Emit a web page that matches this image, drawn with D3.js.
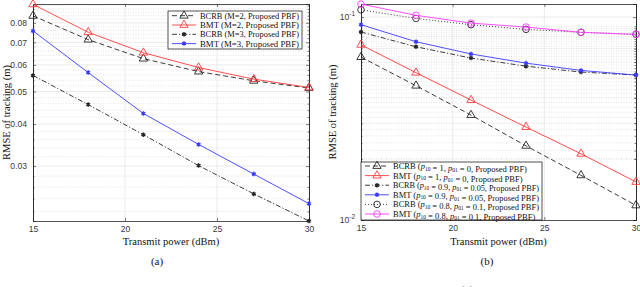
<!DOCTYPE html>
<html>
<head>
<meta charset="utf-8">
<script src="https://cdn.jsdelivr.net/npm/d3@7"></script>
<style>
  body { margin: 0; background: #fff; }
  svg { display: block; }
</style>
</head>
<body>
<div id="canvas"></div>
<script>
// data

const xPower = [15, 18, 21, 24, 27, 30];
const xTicks = [15, 20, 25, 30];

// panel (a)
const bcrbM2 = [0.0839, 0.0713, 0.0626, 0.0573, 0.0538, 0.0512];
const bmtM2 = [0.0908, 0.0750, 0.0652, 0.0589, 0.0544, 0.0514];
const bcrbM3 = [0.0558, 0.0457, 0.0372, 0.0301, 0.0248, 0.0206];
const bmtM3 = [0.0757, 0.0569, 0.0430, 0.0348, 0.0284, 0.0232];
const yTicksA = [0.03, 0.04, 0.05, 0.06, 0.07, 0.08];

// panel (b)
const bcrbP1 = [0.0635, 0.0459, 0.0329, 0.0232, 0.0166, 0.0118];
const bmtP1 = [0.0730, 0.0532, 0.0390, 0.0287, 0.0212, 0.0154];
const bcrbP09 = [0.0844, 0.0714, 0.0628, 0.0573, 0.0536, 0.0518];
const bmtP09 = [0.0917, 0.0756, 0.0658, 0.0593, 0.0546, 0.0518];
const bcrbP08 = [0.1086, 0.0985, 0.0917, 0.0870, 0.0841, 0.0822];
const bmtP08 = [0.1159, 0.1020, 0.0934, 0.0893, 0.0841, 0.0822];
const yTicksB = [0.01, 0.1];

// constants
const width = 640;
const height = 287;
const serif = "'Liberation Serif', 'DejaVu Serif', serif";
const sans = "'Liberation Sans', Arial, sans-serif";
const axisColor = '#262626';
const red = '#ff3b3b';
const blue = '#3b3bff';
const magenta = '#ff3bff';
const black = '#262626';

const dashes = { solid: null, dash: '5,3', dashdot: '5,2,1.2,2', dot: '1,2' };

const svg = d3.select('#canvas')
    .append('svg').attr('width', width).attr('height', height);

function drawMarker(g, type, color, x, y) {
    if (type === 'tri') {
        g.append('path')
            .attr('d', d3.symbol(d3.symbolTriangle, 30)())
            .attr('transform', `translate(${x},${y})`)
            .attr('fill', 'none').attr('stroke', color).attr('stroke-width', 0.9);
    } else if (type === 'circle') {
        g.append('circle').attr('cx', x).attr('cy', y).attr('r', 3.3)
            .attr('fill', 'none').attr('stroke', color).attr('stroke-width', 0.9);
    } else {
        g.append('path')
            .attr('d', d3.symbol(d3.symbolAsterisk, 14)())
            .attr('transform', `translate(${x},${y})`)
            .attr('fill', 'none').attr('stroke', color).attr('stroke-width', 1.4);
    }
}

function drawPanel(p) {
    const x = d3.scaleLinear().domain([15, 30]).range([p.left, p.right]);
    const y = d3.scaleLog().domain(p.yDomain).range([p.bottom, p.top]);
    const g = svg.append('g');

    // grid
    const minor = [];
    for (let v = 0.01; v < 0.1; v += 0.01) minor.push(+v.toFixed(3));
    for (let v = 0.02; v < 0.09; v += 0.002) minor.push(+v.toFixed(4));
    const minorVals = minor.filter(v => v > p.yDomain[0] && v < p.yDomain[1] && !p.yTicks.includes(v));
    g.selectAll('.minor').data(minorVals).join('line')
        .attr('x1', p.left).attr('x2', p.right)
        .attr('y1', d => y(d)).attr('y2', d => y(d))
        .attr('stroke', '#d4d4d4').attr('stroke-width', 0.6).attr('stroke-dasharray', '1,1.5');
    g.selectAll('.majory').data(p.yTicks.filter(v => v > p.yDomain[0] && v < p.yDomain[1])).join('line')
        .attr('x1', p.left).attr('x2', p.right)
        .attr('y1', d => y(d)).attr('y2', d => y(d))
        .attr('stroke', '#e3e3e3').attr('stroke-width', 0.7);
    g.selectAll('.majorx').data(xTicks.slice(1, -1)).join('line')
        .attr('x1', d => x(d)).attr('x2', d => x(d))
        .attr('y1', p.top).attr('y2', p.bottom)
        .attr('stroke', '#e3e3e3').attr('stroke-width', 0.7);

    // axes
    const xAxis = d3.axisBottom(x).tickValues(xTicks).tickSize(-3).tickPadding(5);
    const xg = g.append('g').attr('transform', `translate(0,${p.bottom})`).call(xAxis);
    g.append('g').attr('transform', `translate(0,${p.top})`)
        .call(d3.axisTop(x).tickValues(xTicks).tickSize(-3).tickFormat(''));
    const yAxis = d3.axisLeft(y).tickValues(p.yTicks).tickSize(-3).tickPadding(6)
        .tickFormat(p.tickFormat);
    const yg = g.append('g').attr('transform', `translate(${p.left},0)`).call(yAxis);
    g.append('g').attr('transform', `translate(${p.right},0)`)
        .call(d3.axisRight(y).tickValues(p.yTicks).tickSize(-3).tickFormat(''));
    g.append('g').attr('transform', `translate(${p.left},0)`)
        .call(d3.axisLeft(y).tickValues(minorVals).tickSize(-1.5).tickFormat(''));
    g.append('g').attr('transform', `translate(${p.right},0)`)
        .call(d3.axisRight(y).tickValues(minorVals).tickSize(-1.5).tickFormat(''));
    g.selectAll('.domain').attr('stroke', axisColor).attr('stroke-width', 0.8);
    g.selectAll('.tick line').attr('stroke', axisColor).attr('stroke-width', 0.6);
    xg.selectAll('text').attr('font-family', sans).attr('font-size', 8.6).attr('fill', '#3a3a3a');
    yg.selectAll('text').attr('font-family', sans).attr('font-size', 8.6).attr('fill', '#3a3a3a');

    if (p.powerLabels) {
        yg.selectAll('.tick text').each(function (d) {
            const t = d3.select(this).text('');
            t.append('tspan').text('10');
            t.append('tspan').attr('dy', -4).attr('font-size', 6.5).text(Math.round(Math.log10(d)));
        });
    }

    // series
    const line = d3.line().x((d, i) => x(xPower[i])).y(d => y(d));
    p.series.forEach(s => {
        g.append('path').datum(s.values)
            .attr('d', line)
            .attr('fill', 'none').attr('stroke', s.color).attr('stroke-width', 0.9)
            .attr('stroke-dasharray', dashes[s.dash]);
        s.values.forEach((v, i) => drawMarker(g, s.marker, s.color, x(xPower[i]), y(v)));
    });

    // legend
    const lg = g.append('g');
    lg.append('rect').attr('x', p.legend.x).attr('y', p.legend.y)
        .attr('width', p.legend.w).attr('height', p.legend.h)
        .attr('fill', '#fff').attr('stroke', axisColor).attr('stroke-width', 0.8);
    p.series.forEach((s, i) => {
        const ry = p.legend.y + p.legend.first + i * p.legend.step;
        const lx = p.legend.x + 4;
        lg.append('line').attr('x1', lx).attr('x2', lx + 24).attr('y1', ry).attr('y2', ry)
            .attr('stroke', s.color).attr('stroke-width', 0.9).attr('stroke-dasharray', dashes[s.dash]);
        drawMarker(lg, s.marker, s.color, lx + 12, ry);
        const t = lg.append('text').attr('x', lx + 28).attr('y', ry + 3)
            .attr('font-family', serif).attr('font-size', p.legend.font).attr('fill', '#111');
        s.label.forEach(part => {
            if (part.sub) {
                t.append('tspan').attr('font-style', 'italic').text('p');
                t.append('tspan').attr('font-size', 5.5).attr('dy', 1.5).text(part.sub);
                t.append('tspan').attr('dy', -1.5).text('');
            } else {
                t.append('tspan').text(part.t);
            }
        });
        // keep each label inside the legend box
        const room = p.legend.x + p.legend.w - (lx + 28) - 3;
        const used = t.node().getComputedTextLength();
        if (used > room) t.attr('textLength', room).attr('lengthAdjust', 'spacingAndGlyphs');
    });

    // labels
    g.append('text').attr('x', (p.left + p.right) / 2).attr('y', 245)
        .attr('text-anchor', 'middle').attr('font-family', serif).attr('font-size', 10.5)
        .attr('fill', '#111').text('Transmit power (dBm)');
    g.append('text')
        .attr('transform', `translate(${p.yLabelX},${(p.top + p.bottom) / 2}) rotate(-90)`)
        .attr('text-anchor', 'middle').attr('font-family', serif).attr('font-size', 10.5)
        .attr('fill', '#111').text('RMSE of tracking (m)');
    g.append('text').attr('x', p.captionX).attr('y', 265)
        .attr('text-anchor', 'middle').attr('font-family', serif).attr('font-size', 11)
        .attr('fill', '#111').text(p.caption);
}

drawPanel({
    left: 33, right: 309, top: 4, bottom: 221,
    yDomain: [0.0206, 0.0910],
    yTicks: yTicksA,
    tickFormat: d3.format('.2f'),
    yLabelX: 10, captionX: 157, caption: '(a)',
    legend: { x: 168, y: 11, w: 134, h: 38, first: 4.7, step: 9.3, font: 9.2 },
    series: [
        { values: bcrbM2, color: black, dash: 'dash', marker: 'tri', label: [{ t: 'BCRB (M=2, Proposed PBF)' }] },
        { values: bmtM2, color: red, dash: 'solid', marker: 'tri', label: [{ t: 'BMT (M=2, Proposed PBF)' }] },
        { values: bcrbM3, color: black, dash: 'dashdot', marker: 'star', label: [{ t: 'BCRB (M=3, Proposed PBF)' }] },
        { values: bmtM3, color: blue, dash: 'solid', marker: 'star', label: [{ t: 'BMT (M=3, Proposed PBF)' }] }
    ]
});

function pLabel(name, a, b) {
    return [{ t: name + ' (' }, { sub: '10' }, { t: ' = ' + a + ', ' }, { sub: '01' },
        { t: ' = ' + b + ', Proposed PBF)' }];
}

drawPanel({
    left: 361, right: 636, top: 4, bottom: 220,
    yDomain: [0.01, 0.116],
    yTicks: yTicksB,
    tickFormat: d => d,
    powerLabels: true,
    yLabelX: 336, captionX: 487, caption: '(b)',
    legend: { x: 361, y: 162, w: 181, h: 58, first: 4, step: 9.6, font: 8.5 },
    series: [
        { values: bcrbP1, color: black, dash: 'dash', marker: 'tri', label: pLabel('BCRB', '1', '0') },
        { values: bmtP1, color: red, dash: 'solid', marker: 'tri', label: pLabel('BMT', '1', '0') },
        { values: bcrbP09, color: black, dash: 'dashdot', marker: 'star', label: pLabel('BCRB', '0.9', '0.05') },
        { values: bmtP09, color: blue, dash: 'solid', marker: 'star', label: pLabel('BMT', '0.9', '0.05') },
        { values: bcrbP08, color: black, dash: 'dot', marker: 'circle', label: pLabel('BCRB', '0.8', '0.1') },
        { values: bmtP08, color: magenta, dash: 'solid', marker: 'circle', label: pLabel('BMT', '0.8', '0.1') }
    ]
});

// cut-off caption at the bottom edge
svg.append('text').attr('x', 467).attr('y', 293).attr('text-anchor', 'middle')
    .attr('font-family', serif).attr('font-size', 11).attr('fill', '#555').text('(c)');
</script>
</body>
</html>
